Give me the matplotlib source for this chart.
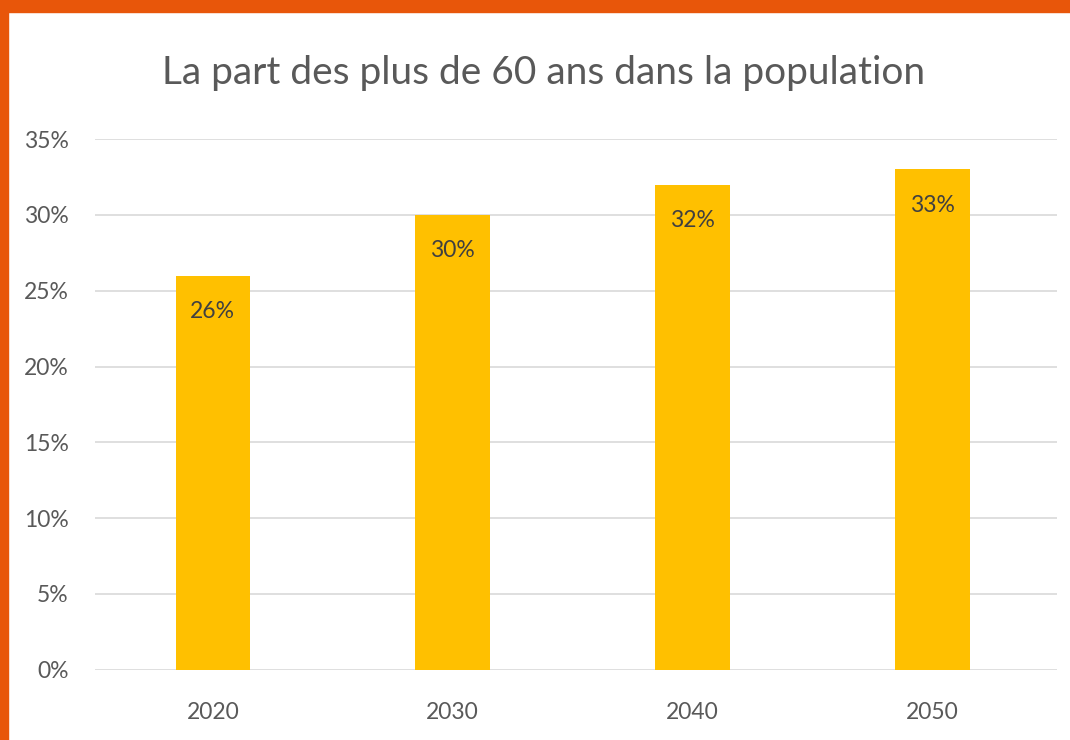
import matplotlib.pyplot as plt
from matplotlib.patches import Rectangle
from matplotlib.ticker import FuncFormatter

annees = ["2020", "2030", "2040", "2050"]
parts = [26, 30, 32, 33]

orange = "#E8560A"
jaune = "#FFC000"
gris = "#595959"

plt.rcParams['font.family'] = ['Lato', 'DejaVu Sans']

fig = plt.figure(figsize=(10.7, 7.4), dpi=100)
ax = fig.add_axes([0.089, 0.095, 0.899, 0.717])

x = range(len(annees))
barres = ax.bar(x, parts, width=0.31, color=jaune, zorder=3)

# etiquettes dans les barres
for xi, v in zip(x, parts):
    ax.text(xi, v - 2.35, f"{v}%", ha="center", va="center", fontsize=16.5, color="#404040", zorder=4)

ax.set_ylim(0, 35)
ax.set_xlim(-0.49, 3.52)
ax.set_yticks(range(0, 36, 5))
ax.yaxis.set_major_formatter(FuncFormatter(lambda v, p: f"{int(v)}%"))
ax.set_xticks(list(x))
ax.set_xticklabels(annees)
ax.tick_params(axis="both", length=0, labelsize=16.5, labelcolor=gris)
ax.tick_params(axis="y", pad=19)
ax.tick_params(axis="x", pad=23)
ax.grid(axis="y", color="#D9D9D9", linewidth=1.2, zorder=0)
for s in ax.spines.values():
    s.set_visible(False)

fig.text(0.508, 0.902, "La part des plus de 60 ans dans la population",
         ha="center", va="center", fontsize=28, color=gris)

# cadre orange
fig.patches.append(Rectangle((0, 1 - 12/740), 1, 12/740, transform=fig.transFigure, color=orange, zorder=10))
fig.patches.append(Rectangle((0, 0), 8/1070, 1, transform=fig.transFigure, color=orange, zorder=10))

fig.savefig("out.png", dpi=100)
